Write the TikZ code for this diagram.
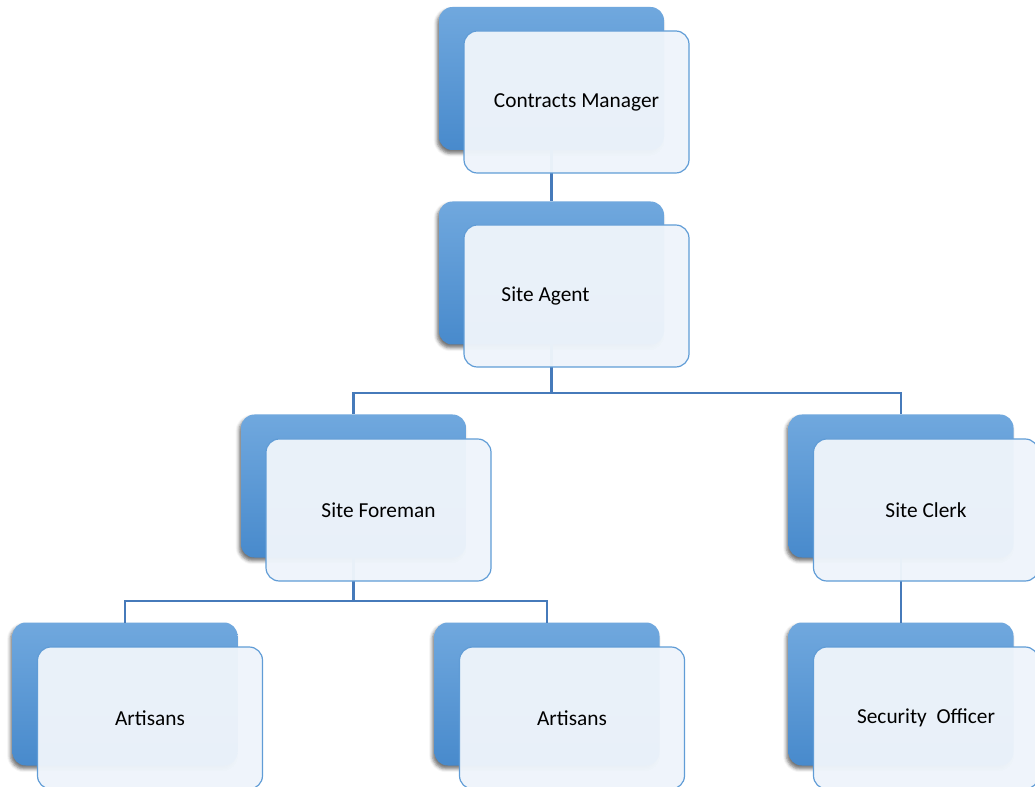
\documentclass[tikz,border=0pt]{standalone}
\usepackage{fontspec}
\setmainfont{Carlito}
\usetikzlibrary{shadows.blur}
\definecolor{backtop}{RGB}{112,168,222}
\definecolor{backbot}{RGB}{72,138,204}
\definecolor{frontfill}{RGB}{238,244,251}
\definecolor{frontline}{RGB}{96,156,214}
\definecolor{linkblue}{RGB}{70,122,186}
\tikzset{
  backbox/.style={rectangle, rounded corners=10pt, minimum width=168.75pt,
    minimum height=107.25pt, inner sep=0pt, outer sep=0pt,
    top color=backtop, bottom color=backbot, draw=none,
    blur shadow={shadow xshift=-1.5pt, shadow yshift=-2.5pt,
      shadow blur radius=2.5pt, shadow opacity=55}},
  frontbox/.style={rectangle, rounded corners=10pt, minimum width=168.75pt,
    minimum height=106.5pt, inner sep=0pt, outer sep=0pt,
    fill=frontfill, fill opacity=0.97, text opacity=1,
    draw=frontline, line width=0.9pt, font=\fontsize{16}{19}\selectfont},
  link/.style={draw=linkblue, line width=1.6pt}
}
\begin{document}
\begin{tikzpicture}[x=0.75pt, y=-0.75pt]
\useasboundingbox (0,0) rectangle (1035,787);
% rear (shaded) boxes
\node[backbox] (cmB) at (551.5,78.5) {};
\node[backbox] (saB) at (551.5,273) {};
\node[backbox] (sfB) at (353.5,486) {};
\node[backbox] (scB) at (901,486) {};
\node[backbox] (a1B) at (125,694) {};
\node[backbox] (a2B) at (547,694) {};
\node[backbox] (soB) at (901,694) {};
% connectors
\coordinate (j1) at (551.5,393);
\coordinate (j2) at (353.5,601);
\draw[link] (cmB.south) -- (saB.north);
\draw[link] (saB.south) -- (j1) -| (sfB.north);
\draw[link] (j1) -| (scB.north);
\draw[link] (sfB.south) -- (j2) -| (a1B.north);
\draw[link] (j2) -| (a2B.north);
\draw[link] (scB.south) -- (soB.north);
% front (translucent) boxes with the titles
\node[frontbox] (cm) at (576.5,102) {Contracts Manager};
\node[frontbox] (sa) at (576.5,296) {Site Agent\hspace*{46.5pt}};
\node[frontbox] (sf) at (378.5,510) {Site Foreman};
\node[frontbox] (sc) at (926,510) {Site Clerk};
\node[frontbox] (a1) at (150,718) {Artisans};
\node[frontbox] (a2) at (572,718) {Artisans};
\node[frontbox] (so) at (926,718) {Security\ \ Officer};
\end{tikzpicture}
\end{document}
